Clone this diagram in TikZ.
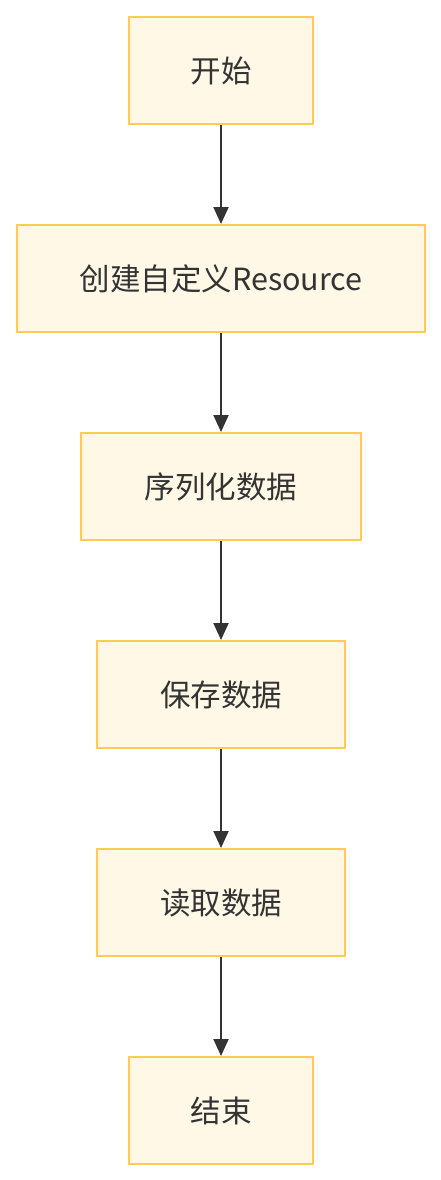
\documentclass[tikz,border=0pt]{standalone}
\usepackage{fontspec}
\setmainfont{Noto Sans CJK SC}
\usetikzlibrary{arrows.meta}
\definecolor{boxfill}{HTML}{FFF8E6}
\definecolor{boxline}{HTML}{FFCC4D}
\definecolor{ink}{HTML}{333333}
\begin{document}
\begin{tikzpicture}[x=1pt,y=-1pt,
  flowbox/.style={draw=boxline,fill=boxfill,line width=2pt,text=ink,
    font=\fontsize{30.5}{34}\selectfont,inner sep=0pt,anchor=north west},
  flowarrow/.style={draw=ink,line width=2pt,-{Triangle[length=17pt,width=15pt]}}]
\useasboundingbox (0,0) rectangle (440,1180);
\node[flowbox,minimum width=184pt,minimum height=107pt] (n1) at (128,16) {开始};
\node[flowbox,minimum width=408pt,minimum height=107pt] (n2) at (16,224) {创建自定义Resource};
\node[flowbox,minimum width=280pt,minimum height=107pt] (n3) at (80,432) {序列化数据};
\node[flowbox,minimum width=248pt,minimum height=107pt] (n4) at (96,640) {保存数据};
\node[flowbox,minimum width=248pt,minimum height=107pt] (n5) at (96,848) {读取数据};
\node[flowbox,minimum width=184pt,minimum height=107pt] (n6) at (128,1056) {结束};
\draw[flowarrow] (n1.south) -- (n2.north);
\draw[flowarrow] (n2.south) -- (n3.north);
\draw[flowarrow] (n3.south) -- (n4.north);
\draw[flowarrow] (n4.south) -- (n5.north);
\draw[flowarrow] (n5.south) -- (n6.north);
\end{tikzpicture}
\end{document}
